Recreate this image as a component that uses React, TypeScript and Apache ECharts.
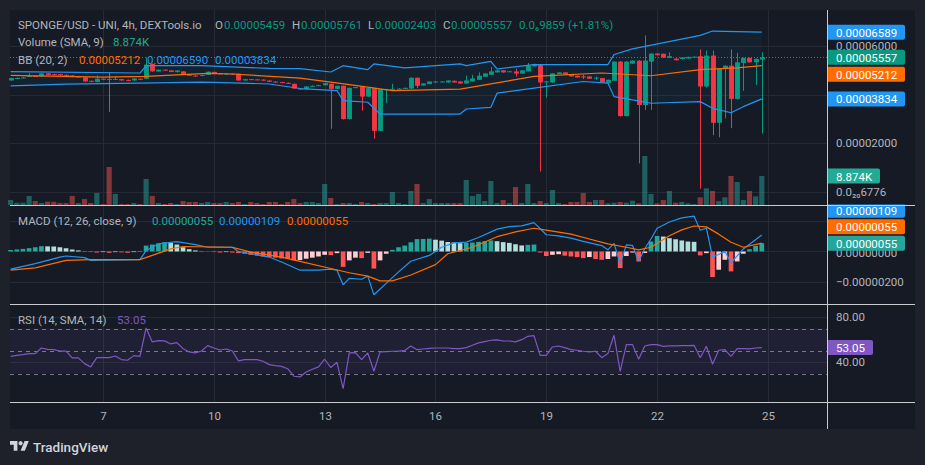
import React, { useEffect, useRef } from "react";
import * as echarts from "echarts";

// ---------------- data ----------------
// 4h candles of SPONGE/USD, prices in units of 1e-8 USD (0.00005459 -> 5459)
const PRICE_UNIT = 1e-8;
const FIRST_DAY = 4.5; // first candle: day 4, 12:00
const CANDLES_PER_DAY = 6;
const DAY_TICKS = [7, 10, 13, 16, 19, 22, 25];
const CHANGE_TEXT = "0.0\u20869859 (+1.81%)";

const opens = [
  4596, 4690, 4700, 4750, 4780, 4763, 4888, 4860, 4860, 4830,
  4800, 4740, 4721, 4583, 4529, 4667, 4660, 4640, 4654, 4620,
  4596, 4667, 4667, 5279, 4971, 5042, 5013, 4940, 4971, 4833,
  4800, 4780, 4833, 4950, 4890, 4850, 4880, 4875, 4596, 4650,
  4640, 4630, 4596, 4550, 4529, 4500, 4458, 4263, 4238, 4346,
  4375, 4400, 4458, 4250, 4375, 3000, 4292, 4346, 3929, 4279,
  2513, 4230, 4210, 4250, 4260, 4263, 4708, 4388, 4446, 4513,
  4530, 4513, 4583, 4554, 4471, 4554, 4625, 4750, 4833, 4929,
  5013, 4960, 4971, 4880, 4971, 5179, 5250, 4540, 4513, 4863,
  4929, 4863, 4792, 4763, 4763, 4690, 4696, 4500, 4583, 5375,
  3125, 5292, 5417, 3583, 5375, 5708, 5700, 5530, 5500, 5480,
  5500, 5560, 5600, 4346, 5625, 2846, 5071, 5208, 3833, 5321,
  5528, 5346, 5459,
];
const closes = [
  4696, 4700, 4720, 4780, 4760, 4888, 4820, 4820, 4810, 4800,
  4740, 4760, 4554, 4540, 4667, 4640, 4640, 4660, 4596, 4590,
  4679, 4640, 5250, 4971, 5042, 5000, 4950, 5010, 4833, 4800,
  4780, 4820, 4958, 4890, 4850, 4880, 4850, 4596, 4650, 4640,
  4630, 4596, 4542, 4529, 4500, 4458, 4263, 4238, 4346, 4375,
  4400, 4488, 4250, 4375, 3000, 4292, 4321, 3929, 4279, 2513,
  4238, 4240, 4250, 4260, 4292, 4708, 4375, 4471, 4554, 4554,
  4554, 4596, 4513, 4471, 4596, 4679, 4792, 4888, 4971, 5013,
  4929, 4975, 4880, 5013, 5208, 5279, 4513, 4560, 4888, 4929,
  4850, 4763, 4721, 4740, 4667, 4715, 4513, 4625, 5375, 3125,
  5375, 5417, 3583, 5417, 5708, 5640, 5540, 5600, 5430, 5550,
  5570, 5580, 4346, 5625, 2846, 5071, 5208, 3833, 5346, 5528,
  5346, 5487, 5557,
];
const lows = [
  4580, 4670, 4690, 4740, 4745, 4750, 4810, 4810, 4800, 4790,
  4730, 4730, 4540, 4530, 4520, 4630, 3300, 4620, 4590, 4580,
  4590, 4630, 4650, 4960, 4960, 4990, 4940, 4930, 4820, 4790,
  4770, 4770, 4820, 4880, 4840, 4840, 4840, 4580, 4590, 4630,
  4620, 4590, 4530, 4520, 4490, 4450, 4250, 4220, 4230, 4340,
  4370, 4390, 2600, 4240, 2980, 2990, 4280, 3346, 3920, 2196,
  2500, 3654, 4200, 4240, 4250, 4250, 4279, 4380, 4440, 4500,
  4520, 4505, 4505, 4460, 4460, 4550, 4620, 4745, 4830, 4925,
  4920, 4950, 4763, 4875, 4965, 5175, 833, 3888, 4505, 4855,
  4845, 4755, 4715, 4654, 4660, 4625, 4505, 4495, 4570, 3100,
  3110, 5280, 1167, 3375, 3375, 5630, 5530, 5520, 5420, 5470,
  5490, 5550, 125, 4300, 2333, 2250, 3030, 2625, 3800, 4167,
  5330, 4417, 2403,
];
const highs = [
  4710, 4720, 4740, 4900, 4795, 4900, 4900, 4870, 4870, 4840,
  4810, 4770, 4730, 4590, 4800, 4680, 4930, 4770, 4660, 4630,
  4690, 4680, 5542, 5300, 5050, 5050, 5020, 5020, 4980, 4850,
  4810, 4830, 4970, 4960, 4900, 4890, 4890, 4880, 4660, 4660,
  4650, 4640, 4600, 4560, 4540, 4510, 4470, 4280, 4360, 4390,
  4410, 4500, 4470, 4380, 4390, 4300, 4330, 4360, 4290, 4290,
  4250, 4250, 4458, 4280, 4300, 4720, 4720, 4480, 4560, 4560,
  4565, 4600, 4590, 4560, 4792, 4833, 4929, 4895, 5154, 5020,
  5020, 4985, 5083, 5020, 5321, 5290, 5270, 4570, 4895, 4935,
  4935, 4870, 4800, 4833, 4770, 4763, 4700, 4630, 5390, 5400,
  5390, 5430, 5430, 6458, 5720, 5720, 5710, 5760, 5510, 5560,
  5580, 5590, 5875, 5830, 5830, 5100, 5220, 5875, 5740, 5540,
  5540, 5500, 5761,
];
const volumes = [
  1530, 714, 714, 2754, 1224, 612, 1020, 1020, 612, 612,
  2754, 612, 1836, 612, 3672, 306, 11630, 3366, 306, 306,
  612, 306, 7956, 2754, 612, 306, 612, 306, 1224, 918,
  918, 612, 918, 612, 612, 918, 612, 918, 306, 918,
  612, 306, 918, 918, 306, 918, 1836, 612, 918, 918,
  612, 6426, 2142, 306, 612, 612, 306, 918, 612, 306,
  612, 612, 3978, 612, 306, 4284, 6426, 612, 1836, 612,
  612, 612, 612, 612, 7650, 2754, 3366, 1224, 7344, 612,
  1530, 612, 5508, 612, 6426, 612, 1224, 612, 4590, 612,
  306, 918, 918, 3672, 918, 1530, 1530, 510, 714, 918,
  714, 1326, 510, 15000, 3366, 510, 1530, 4284, 714, 918,
  510, 306, 2346, 5100, 4284, 1224, 2346, 8874, 7038, 1530,
  4284, 2652, 8874,
];
// Bollinger Bands (20, 2): [candle index, value] vertices
const bbUpper = [
  [0, 4958], [21, 4904], [22, 5208], [31, 5208], [42, 5096], [47, 5083], [52, 4946],
  [54, 5208], [58, 5042], [59, 5279], [64, 5113], [73, 5279], [74, 5208], [78, 5388],
  [79, 5071], [85, 5250], [97, 5250], [98, 5667], [101, 5904], [112, 6458], [114, 6638],
  [122, 6590],
];
const bbBasis = [
  [0, 4804], [15, 4738], [22, 4763], [32, 4888], [36, 4863], [47, 4696], [52, 4529],
  [58, 4321], [62, 4179], [73, 4238], [78, 4458], [85, 4763], [96, 4904], [104, 4792],
  [112, 5042], [118, 5113], [122, 5212],
];
const bbLower = [
  [0, 4375], [9, 4446], [21, 4488], [31, 4529], [36, 4500], [42, 4450], [47, 4263],
  [53, 4179], [54, 3763], [58, 3696], [60, 3208], [73, 3208], [74, 3417], [78, 3488],
  [79, 4071], [85, 4279], [93, 4554], [97, 4488], [98, 3929], [101, 3792], [104, 3654],
  [112, 3721], [114, 3446], [117, 3263], [119, 3513], [122, 3834],
];
// MACD (12, 26, close, 9), units of 1e-8
const macdLine = [
  [0, -117], [4, -80], [8, -37], [9, -30], [12, -41], [13, -59], [21, -54], [22, 6],
  [24, 50], [27, 65], [30, 46], [32, 28], [36, 28], [37, 0], [42, -37], [44, -70],
  [47, -124], [50, -124], [52, -117], [53, -124], [54, -221], [55, -178], [57, -184],
  [58, -163], [59, -287], [61, -211], [63, -135], [65, -65], [68, -26], [70, 28],
  [72, 57], [74, 62], [76, 93], [79, 148], [81, 165], [83, 170], [85, 191], [87, 111],
  [89, 104], [91, 89], [93, 67], [96, 39], [97, 11], [98, 54], [99, -80], [100, 44],
  [101, 40], [102, -65], [103, 20], [104, 83], [105, 154], [107, 195], [109, 223],
  [111, 234], [112, 141], [113, 154], [114, -37], [115, -20], [116, 2], [117, -76],
  [119, 17], [122, 109],
];
const macdSignal = [
  [0, -124], [4, -109], [9, -59], [13, -54], [21, -54], [23, -26], [26, 17], [28, 33],
  [36, 28], [39, -4], [44, -37], [47, -65], [52, -113], [55, -141], [58, -163],
  [60, -195], [62, -195], [65, -156], [69, -87], [71, -15], [75, 28], [79, 98],
  [82, 130], [85, 154], [87, 141], [91, 115], [94, 83], [97, 50], [100, 28], [102, 11],
  [104, 28], [107, 104], [109, 143], [111, 169], [113, 163], [115, 115], [117, 61],
  [119, 28], [122, 55],
];
const macdHist = [
  9, 13, 17, 22, 28, 35, 34, 33, 28, 22,
  13, 7, 2, -4, -7, -4, -9, -4, -6, -9,
  -4, -2, 39, 46, 54, 61, 56, 46, 28, 15,
  7, 2, -2, -4, -7, -4, -7, -11, -15, -22,
  -26, -33, -37, -41, -46, -50, -59, -57, -48, -41,
  -33, -22, -24, -11, -102, -59, -41, -44, -9, -113,
  -59, -15, 11, 28, 39, 61, 82, 83, 85, 78,
  72, 63, 60, 55, 57, 59, 64, 68, 73, 68,
  62, 57, 48, 40, 44, 46, -7, -30, -22, -18,
  -28, -33, -37, -44, -37, -50, -55, -50, -33, -110,
  -30, -7, -66, -10, 66, 103, 99, 88, 81, 73,
  66, 64, -26, -11, -169, -121, -55, -132, -66, -15,
  15, 37, 55,
];
// RSI (14)
const rsi = [
  45.3, 46.2, 46.8, 47.7, 47.7, 52.7, 51.5, 51.2, 50, 50,
  43.9, 43.9, 38.8, 35.9, 44.1, 44.1, 44.1, 45.6, 42.4, 41.8,
  45.9, 45.3, 70.5, 58.1, 59.3, 59, 56.3, 57.5, 52.1, 49.2,
  48.3, 50, 54.8, 52.7, 50.9, 51.8, 50, 41.2, 42.4, 42.4,
  42.4, 40.9, 37.9, 37, 36.4, 34.3, 27.6, 27, 31.4, 33.8,
  35.9, 42.7, 35.3, 40, 16.6, 48.3, 48.6, 42.4, 48.3, 32,
  49.2, 49.5, 49.8, 50, 50.4, 54.5, 51.2, 51.8, 52.4, 52.7,
  52.7, 52.7, 52.1, 52.1, 53, 55.1, 57.2, 58.4, 59.6, 59.9,
  58.9, 58.9, 58.1, 60.1, 63.1, 63.7, 46.2, 46.2, 53.6, 54.5,
  53, 51.3, 50.7, 49.8, 49.2, 49.8, 44.1, 47.7, 64, 32,
  55.7, 55.7, 42.7, 54.5, 55.7, 55.7, 54.2, 54.5, 54.5, 54.8,
  54.8, 55.1, 44.1, 54.2, 38.2, 50.7, 51.3, 45.3, 52.1, 52.1,
  51.9, 52.7, 53.05,
];
// tick labels shown on the price scales (others are hidden under value badges)
const priceTicks = [0, 2000, 6000];
const priceGrid = [0, 2000, 4000, 6000];
const macdTicks = [-200, 0];
const macdGrid = [-200, 0, 200];
const rsiTicks = [80, 40];
const rsiBands = [70, 50, 30];

// ---------------- style ----------------
const OUTER = "#1e212a";
const PANEL = "#161a24";
const GRIDC = "#262a35";
const SEP = "#c9cbd1";
const TXT = "#b2b5be";
const UP = "#089981";
const DOWN = "#f23645";
const BLUE = "#2196f3";
const ORANGE = "#ff6d00";
const PURPLE = "#7e57c2";
const FONT = "Roboto, 'Noto Sans', sans-serif";
const FS = 11.5;

const L = 10, R = 827, AXR = 915;
const MAIN_T = 10, MAIN_B = 205, MACD_B = 304, RSI_B = 402, TIME_B = 429;
const XMIN = -0.104, XMAX = 132.59;

const fmtPrice = (v: number) => {
  const s = (Math.abs(v) * PRICE_UNIT).toFixed(8);
  return (v < 0 ? "\u2212" : "") + s;
};

function buildOption() {
  const xa = (g: number) => ({ type: "value", gridIndex: g, min: XMIN, max: XMAX, show: false });
  const candleData = opens.map((o, i) => [i, o, closes[i], lows[i], highs[i]]);
  const volData = volumes.map((v, i) => [i, v, closes[i] >= opens[i] ? 1 : 0]);
  const histData = macdHist.map((v, i) => {
    const prev = i > 0 ? macdHist[i - 1] : v;
    let c;
    if (v >= 0) c = v >= prev ? "#26a69a" : "#b2dfdb";
    else c = v <= prev ? "#ff5252" : "#ffcdd2";
    return { value: [i, v], itemStyle: { color: c } };
  });
  return {
    animation: false,
    backgroundColor: OUTER,
    grid: [
      { left: L, top: MAIN_T, width: R - L, height: MAIN_B - MAIN_T },
      { left: L, top: MAIN_B, width: R - L, height: MACD_B - MAIN_B },
      { left: L, top: MACD_B, width: R - L, height: RSI_B - MACD_B },
    ],
    xAxis: [xa(0), xa(1), xa(2)],
    yAxis: [
      { type: "value", gridIndex: 0, min: -550, max: 7508, show: false },
      { type: "value", gridIndex: 0, min: 0, max: 59670, show: false },
      { type: "value", gridIndex: 1, min: -348, max: 308, show: false },
      { type: "value", gridIndex: 2, min: 4.7, max: 91.8, show: false },
    ],
    series: [
      {
        type: "custom", name: "volume", xAxisIndex: 0, yAxisIndex: 1, z: 1,
        data: volData,
        renderItem: (p: any, api: any) => {
          const i = api.value(0), v = api.value(1), up = api.value(2);
          const b = api.coord([i, 0]);
          const t = api.coord([i, v]);
          const w = api.size([1, 0])[0] * 0.84;
          return {
            type: "rect",
            shape: { x: b[0] - w / 2, y: t[1], width: w, height: b[1] - t[1] },
            style: { fill: up ? "rgba(38,166,154,0.5)" : "rgba(239,83,80,0.5)" },
          };
        },
      },
      {
        type: "custom", name: "bbfill", xAxisIndex: 0, yAxisIndex: 0, z: 1,
        data: [[0, 0]],
        renderItem: (p: any, api: any) => {
          const pts = bbUpper.map((q) => api.coord(q)).concat(bbLower.slice().reverse().map((q) => api.coord(q)));
          return { type: "polygon", shape: { points: pts }, style: { fill: "rgba(33,150,243,0.06)" } };
        },
      },
      {
        type: "custom", name: "candles", xAxisIndex: 0, yAxisIndex: 0, z: 3,
        data: candleData,
        renderItem: (p: any, api: any) => {
          const i = api.value(0), o = api.value(1), c = api.value(2), lo = api.value(3), hi = api.value(4);
          const x = api.coord([i, o])[0];
          const yo = api.coord([i, o])[1], yc = api.coord([i, c])[1];
          const yl = api.coord([i, lo])[1], yh = api.coord([i, hi])[1];
          const w = api.size([1, 0])[0] * 0.8;
          const col = c >= o ? UP : DOWN;
          const xr = Math.round(x) + 0.5;
          return {
            type: "group",
            children: [
              { type: "line", shape: { x1: xr, y1: yh, x2: xr, y2: yl }, style: { stroke: col, lineWidth: 1 } },
              { type: "rect", shape: { x: xr - w / 2, y: Math.min(yo, yc), width: w, height: Math.max(Math.abs(yo - yc), 1) }, style: { fill: col } },
            ],
          };
        },
      },
      { type: "line", name: "bbUpper", xAxisIndex: 0, yAxisIndex: 0, z: 4, data: bbUpper, showSymbol: false, lineStyle: { color: BLUE, width: 1.2 } },
      { type: "line", name: "bbBasis", xAxisIndex: 0, yAxisIndex: 0, z: 4, data: bbBasis, showSymbol: false, lineStyle: { color: ORANGE, width: 1.2 } },
      { type: "line", name: "bbLower", xAxisIndex: 0, yAxisIndex: 0, z: 4, data: bbLower, showSymbol: false, lineStyle: { color: BLUE, width: 1.2 } },
      {
        type: "custom", name: "hist", xAxisIndex: 1, yAxisIndex: 2, z: 2,
        data: histData,
        renderItem: (p: any, api: any) => {
          const i = api.value(0), v = api.value(1);
          const b = api.coord([i, 0]);
          const t = api.coord([i, v]);
          const w = api.size([1, 0])[0] * 0.76;
          return {
            type: "rect",
            shape: { x: b[0] - w / 2, y: Math.min(b[1], t[1]), width: w, height: Math.abs(b[1] - t[1]) },
            style: { fill: api.visual("color") },
          };
        },
      },
      { type: "line", name: "macd", xAxisIndex: 1, yAxisIndex: 2, z: 4, data: macdLine, showSymbol: false, lineStyle: { color: BLUE, width: 1.2 } },
      { type: "line", name: "signal", xAxisIndex: 1, yAxisIndex: 2, z: 4, data: macdSignal, showSymbol: false, lineStyle: { color: ORANGE, width: 1.2 } },
      { type: "line", name: "rsi", xAxisIndex: 2, yAxisIndex: 3, z: 4, data: rsi.map((v, i) => [i, v]), showSymbol: false, lineStyle: { color: PURPLE, width: 1.2 } },
    ],
  };
}

function txt(x: number, y: number, text: string, fill: string, opts: any = {}) {
  return {
    type: "text", z: opts.z ?? 60, silent: true,
    style: {
      text, x, y, fill,
      fontSize: opts.fontSize ?? FS, fontFamily: FONT, fontWeight: opts.fontWeight ?? "normal",
      align: opts.align ?? "left", textAlign: opts.align ?? "left",
      verticalAlign: "middle", textVerticalAlign: "middle",
    },
  };
}
function hline(y: number, x1: number, x2: number, stroke: string, z = -50, dash?: number[]) {
  const yy = Math.round(y) + 0.5;
  return { type: "line", z, silent: true, shape: { x1, y1: yy, x2, y2: yy }, style: { stroke, lineWidth: 1, lineDash: dash } };
}
function badge(yc: number, text: string, bg: string, w = 77) {
  return [
    { type: "rect", z: 80, silent: true, shape: { x: R + 1, y: yc - 7.5, width: w, height: 15, r: [0, 2, 2, 0] }, style: { fill: bg } },
    txt(R + 9, yc + 0.5, text, "#ffffff", { z: 81 }),
  ];
}

function buildGraphics(chart: any) {
  const X = (i: number) => chart.convertToPixel({ xAxisIndex: 0 }, i) as number;
  const Y = (a: number, v: number) => chart.convertToPixel({ yAxisIndex: a }, v) as number;
  const g: any[] = [];
  g.push({ type: "rect", z: -100, silent: true, shape: { x: L, y: MAIN_T, width: AXR - L, height: TIME_B - MAIN_T }, style: { fill: PANEL } });

  // vertical day grid + time labels
  DAY_TICKS.forEach((d) => {
    const x = Math.round(X((d - FIRST_DAY) * CANDLES_PER_DAY)) + 0.5;
    g.push({ type: "line", z: -50, silent: true, shape: { x1: x, y1: MAIN_T, x2: x, y2: RSI_B }, style: { stroke: GRIDC, lineWidth: 1 } });
    g.push(txt(x, 416, String(d), TXT, { align: "center" }));
  });
  // price grid + labels
  priceGrid.forEach((v) => g.push(hline(Y(0, v), L, R, GRIDC)));
  priceTicks.forEach((v) => g.push(txt(836, Y(0, v), v === 0 ? "0.0\u2082\u20806776" : fmtPrice(v), TXT)));
  macdGrid.forEach((v) => g.push(hline(Y(2, v), L, R, GRIDC)));
  macdTicks.forEach((v) => g.push(txt(836, Y(2, v) + (v === 0 ? 2 : 0), fmtPrice(v), TXT)));
  rsiTicks.forEach((v) => {
    const y = Y(3, v);
    g.push(hline(y, L, R, GRIDC));
    g.push(txt(836, y, v.toFixed(2), TXT));
  });
  // RSI band
  const y70 = Y(3, 70), y30 = Y(3, 30);
  g.push({ type: "rect", z: -40, silent: true, shape: { x: L, y: y70, width: R - L, height: y30 - y70 }, style: { fill: "rgba(126,87,194,0.1)" } });
  rsiBands.forEach((v) => g.push(hline(Y(3, v), L, R, "#787b86", -30, [4, 4])));

  // last close dotted line
  const last = closes.length - 1;
  g.push(hline(Y(0, closes[last]), L, R, UP, 5, [1, 2]));

  // separators
  g.push({ type: "rect", z: 95, silent: true, shape: { x: R + 1, y: 199, width: AXR - R - 1, height: 5.5 }, style: { fill: PANEL } });
  [MAIN_B, MACD_B, RSI_B].forEach((y) => g.push(hline(y - 0.5, L, AXR, SEP, 100)));
  g.push({ type: "line", z: 100, silent: true, shape: { x1: R + 0.5, y1: MAIN_T, x2: R + 0.5, y2: TIME_B }, style: { stroke: SEP, lineWidth: 1 } });

  // badges (value labels on the price scale)
  const up = bbUpper[bbUpper.length - 1][1];
  const bas = bbBasis[bbBasis.length - 1][1];
  const lo = bbLower[bbLower.length - 1][1];
  g.push(...badge(Y(0, up), fmtPrice(up - 1), BLUE));
  g.push(...badge(Y(0, closes[last]), fmtPrice(closes[last]), UP));
  g.push(...badge(Y(0, closes[last]) + 17, fmtPrice(bas), ORANGE));
  g.push(...badge(Y(0, lo), fmtPrice(lo), BLUE));
  g.push(...badge(Y(1, volumes[last]), (volumes[last] / 1000).toFixed(3) + "K", "#22ab94", 52));
  const mLast = macdLine[macdLine.length - 1][1];
  const sLast = macdSignal[macdSignal.length - 1][1];
  const hLast = macdHist[macdHist.length - 1];
  g.push(...badge(Y(2, hLast), fmtPrice(hLast), "#26a69a"));
  g.push(...badge(Y(2, hLast) - 16.5, fmtPrice(sLast), ORANGE));
  g.push(...badge(Y(2, hLast) - 33, fmtPrice(mLast), BLUE));
  g.push(...badge(Y(3, rsi[last]), rsi[last].toFixed(2), PURPLE, 45));

  // legends
  const o = opens[last], c = closes[last];
  g.push(txt(18, 24.5, "SPONGE/USD - UNI, 4h, DEXTools.io", TXT));
  g.push(txt(215, 24.5, "O", TXT), txt(224, 24.5, fmtPrice(o), UP));
  g.push(txt(292, 24.5, "H", TXT), txt(301, 24.5, fmtPrice(highs[last]), UP));
  g.push(txt(368, 24.5, "L", TXT), txt(375, 24.5, fmtPrice(lows[last]), UP));
  g.push(txt(443, 24.5, "C", TXT), txt(451, 24.5, fmtPrice(c), UP));
  g.push(txt(519, 24.5, CHANGE_TEXT, UP));
  g.push(txt(18, 42, "Volume (SMA, 9)", TXT), txt(113, 42, (volumes[last] / 1000).toFixed(3) + "K", "#22ab94"));
  g.push(txt(18, 59.5, "BB (20, 2)", TXT), txt(79, 59.5, fmtPrice(bas), ORANGE), txt(147, 59.5, fmtPrice(up), BLUE), txt(215, 59.5, fmtPrice(lo), BLUE));
  g.push(txt(18, 221, "MACD (12, 26, close, 9)", TXT), txt(152, 221, fmtPrice(hLast), "#26a69a"), txt(219, 221, fmtPrice(mLast), BLUE), txt(287, 221, fmtPrice(sLast), ORANGE));
  g.push(txt(18, 320, "RSI (14, SMA, 14)", TXT), txt(117, 320, rsi[last].toFixed(2), PURPLE));

  // TradingView logo
  const s = 0.53;
  g.push({ type: "tvlogo", z: 60, silent: true, x: 10, y: 439, scaleX: s, scaleY: s, style: { fill: "#d1d4dc" } });
  g.push({ type: "circle", z: 60, silent: true, shape: { cx: 10 + 20 * s, cy: 439 + 8 * s, r: 4 * s }, style: { fill: "#d1d4dc" } });
  g.push(txt(33, 447, "TradingView", "#d1d4dc", { fontSize: 13.5, fontWeight: 500 }));
  return g;
}

let registered = false;
export default function App() {
  const ref = useRef<HTMLDivElement>(null);
  useEffect(() => {
    document.body.style.margin = "0";
    document.body.style.background = OUTER;
    if (!registered) {
      echarts.graphic.registerShape("tvlogo", echarts.graphic.extendPath("M14 22H7V11H0V4h14v18zM28 22h-8l7.5-18h8L28 22z", {}) as any);
      registered = true;
    }
    const chart = echarts.init(ref.current!, undefined, { renderer: "svg", width: 925, height: 465 });
    chart.setOption(buildOption() as any);
    chart.setOption({ graphic: buildGraphics(chart) } as any);
    return () => chart.dispose();
  }, []);
  return <div ref={ref} style={{ width: 925, height: 465 }} />;
}
